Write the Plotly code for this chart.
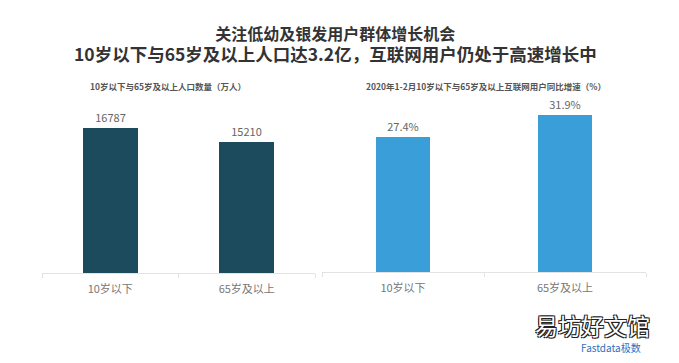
import plotly.graph_objects as go

categories = ["10岁以下", "65岁及以上"]
population = [16787, 15210]
growth = [27.4, 31.9]
growth_labels = ["27.4%", "31.9%"]

OFF = 8  # default page body margin
W, H = 679 - 2 * OFF, 363 - 2 * OFF
FONT = "Noto Sans CJK SC"

def px(x):
    return (x - OFF) / W

def py(y):
    return 1 - (y - OFF) / H

fig = go.Figure()
fig.add_trace(go.Bar(
    x=categories, y=population, width=0.40,
    marker=dict(color="#1c4b5e", line=dict(width=0)),
    text=[str(v) for v in population], textposition="outside",
    textfont=dict(size=11, color="#666666", family=FONT),
    cliponaxis=False, xaxis="x", yaxis="y", showlegend=False,
))
fig.add_trace(go.Bar(
    x=categories, y=growth, width=0.333,
    marker=dict(color="#3a9fd8", line=dict(width=0)),
    text=growth_labels, textposition="outside",
    textfont=dict(size=11, color="#666666", family=FONT),
    cliponaxis=False, xaxis="x2", yaxis="y2", showlegend=False,
))

axis_common = dict(
    showline=True, linecolor="#e3e3e3", linewidth=1,
    ticks="outside", tickson="boundaries", ticklen=4, tickcolor="#e3e3e3",
    tickfont=dict(size=11, color="#777777", family=FONT),
    ticklabelstandoff=6,
    showgrid=False, zeroline=False, fixedrange=True,
)
yaxis_common = dict(visible=False, showgrid=False, zeroline=False, fixedrange=True)

fig.update_layout(
    width=W, height=H,
    margin=dict(l=0, r=0, t=0, b=0),
    paper_bgcolor="white", plot_bgcolor="white",
    font=dict(family=FONT),
    bargap=0,
    xaxis=dict(domain=[px(42), px(315)], anchor="y", **axis_common),
    yaxis=dict(domain=[py(273), py(100)], range=[0, 20029], anchor="x", **yaxis_common),
    xaxis2=dict(domain=[px(322), px(646)], anchor="y2", **axis_common),
    yaxis2=dict(domain=[py(272), py(100)], range=[0, 34.9], anchor="x2", **yaxis_common),
)

annotations = [
    dict(text="<b>关注低幼及银发用户群体增长机会</b><br>"
              "<b><span style='font-size:17.5px'>10岁以下与65岁及以上人口达3.2亿，互联网用户仍处于高速增长中</span></b>",
         x=px(335), y=py(43),
         font=dict(size=16, color="#333333", family=FONT)),
    dict(text="<b>10岁以下与65岁及以上人口数量（万人）</b>", x=px(168), y=py(86),
         font=dict(size=8.5, color="#555555", family=FONT)),
    dict(text="<b>2020年1-2月10岁以下与65岁及以上互联网用户同比增速（%）</b>", x=px(486), y=py(86),
         font=dict(size=8.5, color="#555555", family=FONT)),
    dict(text="Fastdata极数", x=px(611), y=py(347),
         font=dict(size=10, color="#2f6fc0", family=FONT)),
    dict(text="易坊好文馆", x=px(592), y=py(325),
         font=dict(size=23, color="white", family=FONT,
                   shadow="1px 1px 0 #222, -1px -1px 0 #222, 1px -1px 0 #222, -1px 1px 0 #222")),
]
for a in annotations:
    a.update(xref="paper", yref="paper", showarrow=False, xanchor="center", yanchor="middle")
fig.update_layout(annotations=annotations)

fig.write_html("out.html")
